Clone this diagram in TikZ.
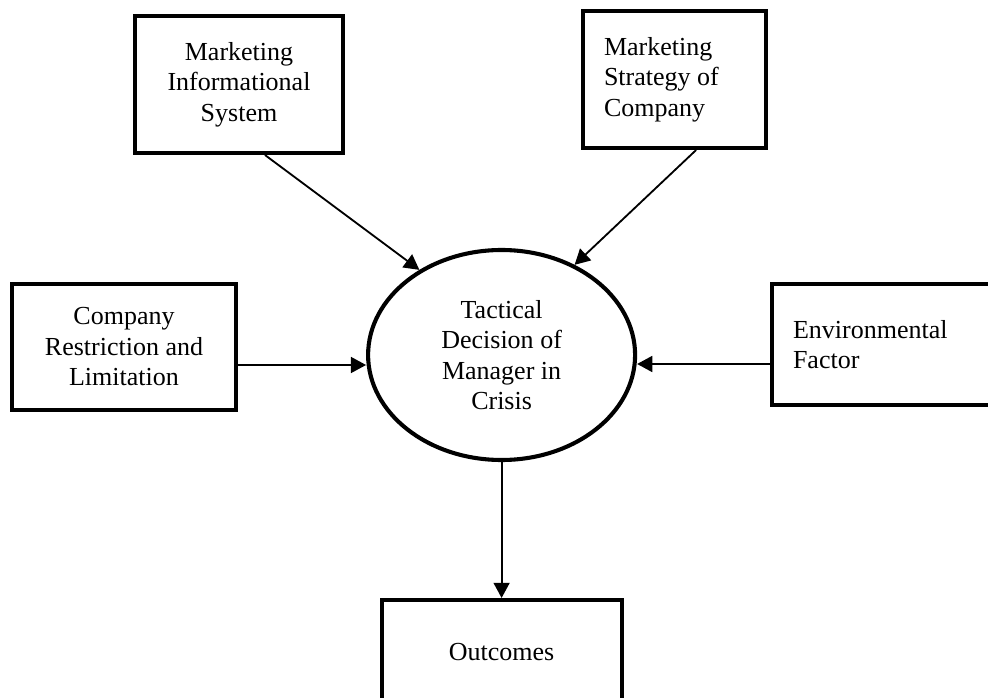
\documentclass[tikz,border=0pt]{standalone}
\usepackage{fontspec}
\setmainfont{Liberation Serif}
\usetikzlibrary{arrows.meta,positioning,shapes}

\begin{document}
\begin{tikzpicture}[
  lbl/.style={font=\fontsize{18.5}{21.7}\selectfont},
  box/.style={draw,rectangle,line width=2.9pt,inner sep=0pt,lbl},
  arr/.style={-{Triangle[length=0.38cm,width=0.4cm]},line width=1.3pt}]
\useasboundingbox (0,0) rectangle (24.7,17.425);
\clip (0,0) rectangle (24.7,17.425);
\node[box,minimum width=5.2cm,minimum height=3.425cm,align=center] (mis) at (5.975,15.3125) {Marketing\\Informational\\System};
\node[box,minimum height=3.425cm,text width=3.525cm,inner xsep=0.525cm,align=flush left] (msc) at (16.8625,15.4375) {Marketing\\Strategy of\\Company};
\node[box,minimum width=5.6cm,minimum height=3.15cm,align=center] (comp) at (3.1,8.75) {Company\\Restriction and\\Limitation};
\node[box,minimum height=3.025cm,text width=4.65cm,inner xsep=0.525cm,align=flush left] (env) at (22.15,8.8125) {Environmental\\Factor};
\node[draw,ellipse,line width=2.9pt,minimum width=6.675cm,minimum height=5.25cm,inner sep=0pt,align=center,lbl] (tact) at (12.54,8.55) {Tactical\\Decision of\\Manager in\\Crisis};
\node[box,minimum width=6cm,minimum height=2.6cm] (out) at (12.54,1.125) {Outcomes};
\draw[arr] ([xshift=0.65cm]mis.south) -- (tact.134);
\draw[arr] ([xshift=0.54cm]msc.south) -- (tact.51);
\draw[arr] ([yshift=-0.45cm]comp.east) -- ([yshift=-0.25cm]tact.west);
\draw[arr] ([yshift=-0.4875cm]env.west) -- ([yshift=-0.225cm]tact.east);
\draw[arr] (tact) -- (out);
\end{tikzpicture}
\end{document}
